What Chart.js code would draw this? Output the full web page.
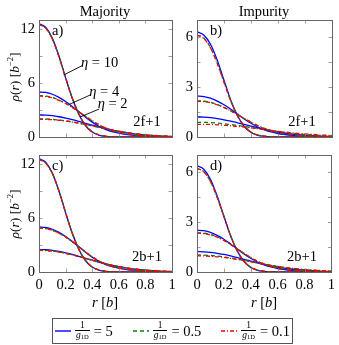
<!DOCTYPE html>
<html lang="en">
<head>
<meta charset="UTF-8">
<title>Density profiles</title>
<script src="https://cdn.jsdelivr.net/npm/chart.js@4.4.0/dist/chart.umd.min.js"></script>
<style>
  body { margin: 0; background: #fff; }
  #fig { position: relative; width: 339px; height: 345px; font-family: 'Liberation Serif', serif; color: #000; overflow: hidden; }
  #fig canvas { position: absolute; left: 0; top: 0; }
  .txt { position: absolute; font-size: 14.5px; white-space: nowrap; line-height: 1; }
  .ctr { transform: translate(-50%, -50%); }
  .ylab { position: absolute; font-size: 13.5px; white-space: nowrap; transform: translate(-50%, -50%) rotate(-90deg); }
  #legend { position: absolute; left: 52px; top: 318px; width: 235px; height: 24px; border: 1px solid #555; padding: 0 2px;
            display: flex; align-items: center; justify-content: space-between; font-size: 14.5px; }
  .item { display: flex; align-items: center; }
  .item svg { margin-right: 4px; }
  .frac { display: inline-flex; flex-direction: column; align-items: center; font-size: 9.5px; line-height: 9px; margin-right: 4px; }
  .frac .den { border-top: 0.8px solid #000; padding: 0 1px; }
  .frac sub { font-size: 6.5px; vertical-align: -1px; }
</style>
</head>
<body>
<div id="fig">
  <canvas id="pa" width="339" height="345"></canvas>
  <canvas id="pb" width="339" height="345"></canvas>
  <canvas id="pc" width="339" height="345"></canvas>
  <canvas id="pd" width="339" height="345"></canvas>

  <div class="txt ctr" style="left:105px; top:11px;">Majority</div>
  <div class="txt ctr" style="left:264px; top:11px;">Impurity</div>

  <div class="ylab" style="left:14px; top:77px;"><i>ρ</i>(<i>r</i>) [<i>b</i><sup style="font-size:8.5px">−2</sup>]</div>
  <div class="ylab" style="left:14px; top:214px;"><i>ρ</i>(<i>r</i>) [<i>b</i><sup style="font-size:8.5px">−2</sup>]</div>

  <div class="txt ctr" style="left:105px; top:302px;"><i>r</i> [<i>b</i>]</div>
  <div class="txt ctr" style="left:264px; top:302px;"><i>r</i> [<i>b</i>]</div>

  <div class="txt" style="left:52px; top:23px;">a)</div>
  <div class="txt" style="left:210px; top:23px;">b)</div>
  <div class="txt" style="left:52px; top:158px;">c)</div>
  <div class="txt" style="left:210px; top:158px;">d)</div>

  <div class="txt ctr" style="left:147px; top:121px;">2f+1</div>
  <div class="txt ctr" style="left:302px; top:121px;">2f+1</div>
  <div class="txt ctr" style="left:147px; top:256px;">2b+1</div>
  <div class="txt ctr" style="left:302px; top:256px;">2b+1</div>

  <div id="legend">
    <div class="item">
      <svg width="16" height="6"><line x1="0" y1="3" x2="16" y2="3" stroke="#0000ff" stroke-width="1.4"/></svg>
      <span class="frac"><span>1</span><span class="den"><i>g</i><sub>1D</sub></span></span>= 5
    </div>
    <div class="item">
      <svg width="16" height="6"><line x1="0" y1="3" x2="16" y2="3" stroke="#008000" stroke-width="1.4" stroke-dasharray="4,3"/></svg>
      <span class="frac"><span>1</span><span class="den"><i>g</i><sub>1D</sub></span></span>= 0.5
    </div>
    <div class="item">
      <svg width="16" height="6"><line x1="0" y1="3" x2="16" y2="3" stroke="#ff0000" stroke-width="1.4" stroke-dasharray="4,2,1,2"/></svg>
      <span class="frac"><span>1</span><span class="den"><i>g</i><sub>1D</sub></span></span>= 0.1
    </div>
  </div>
</div>

<script>
// radial grid, r in units of b
const r = [0, 0.05, 0.1, 0.15, 0.2, 0.25, 0.3, 0.35, 0.4, 0.45, 0.5,
           0.55, 0.6, 0.65, 0.7, 0.75, 0.8, 0.85, 0.9, 0.95, 1];

const xTicks = [0, 0.2, 0.4, 0.6, 0.8, 1];
const yTicksMaj = [0, 3, 6, 9, 12];
const yLabelsMaj = [0, 6, 12];
const yTicksImp = [0, 1.5, 3, 4.5, 6];
const yLabelsImp = [0, 3, 6];

// a) majority, 2f+1   (blue: 1/g=5, green: 1/g=0.5, red: 1/g=0.1)
const aEta10Blue  = [12.6, 12.2, 11.0, 9.0, 6.6, 4.3, 2.5, 1.25, 0.55, 0.22, 0.08, 0.03, 0.01, 0, 0, 0, 0, 0, 0, 0, 0];
const aEta10Green = [12.5, 12.1, 10.9, 8.95, 6.6, 4.35, 2.55, 1.3, 0.58, 0.24, 0.09, 0.03, 0.01, 0, 0, 0, 0, 0, 0, 0, 0];
const aEta10Red   = [12.5, 12.1, 10.9, 8.9, 6.55, 4.3, 2.55, 1.3, 0.58, 0.24, 0.09, 0.03, 0.01, 0, 0, 0, 0, 0, 0, 0, 0];
const aEta4Blue   = [5.0, 4.95, 4.75, 4.4, 3.95, 3.4, 2.8, 2.2, 1.65, 1.2, 0.85, 0.6, 0.42, 0.3, 0.2, 0.14, 0.1, 0.07, 0.05, 0.03, 0.02];
const aEta4Green  = [4.6, 4.55, 4.4, 4.1, 3.75, 3.3, 2.8, 2.3, 1.8, 1.35, 1.0, 0.72, 0.5, 0.36, 0.25, 0.18, 0.12, 0.08, 0.06, 0.04, 0.03];
const aEta4Red    = [4.55, 4.5, 4.35, 4.08, 3.72, 3.28, 2.8, 2.3, 1.82, 1.38, 1.02, 0.74, 0.52, 0.37, 0.26, 0.18, 0.13, 0.09, 0.06, 0.04, 0.03];
const aEta2Blue   = [2.45, 2.43, 2.37, 2.25, 2.1, 1.93, 1.73, 1.52, 1.32, 1.12, 0.93, 0.76, 0.61, 0.48, 0.37, 0.28, 0.21, 0.15, 0.11, 0.08, 0.05];
const aEta2Green  = [2.02, 2.0, 1.96, 1.89, 1.8, 1.68, 1.54, 1.39, 1.23, 1.07, 0.92, 0.77, 0.63, 0.51, 0.4, 0.31, 0.24, 0.18, 0.13, 0.1, 0.07];
const aEta2Red    = [1.97, 1.95, 1.92, 1.86, 1.77, 1.66, 1.53, 1.39, 1.24, 1.09, 0.94, 0.79, 0.65, 0.53, 0.42, 0.33, 0.25, 0.19, 0.14, 0.11, 0.08];

// b) impurity, 2f+1
const bEta10Blue  = [6.3, 6.1, 5.55, 4.6, 3.4, 2.2, 1.27, 0.63, 0.27, 0.1, 0.04, 0.015, 0.005, 0, 0, 0, 0, 0, 0, 0, 0];
const bEta10Green = [6.1, 5.92, 5.35, 4.42, 3.3, 2.17, 1.28, 0.66, 0.3, 0.12, 0.045, 0.017, 0.006, 0, 0, 0, 0, 0, 0, 0, 0];
const bEta10Red   = [6.1, 5.9, 5.33, 4.4, 3.28, 2.16, 1.28, 0.66, 0.3, 0.12, 0.045, 0.017, 0.006, 0, 0, 0, 0, 0, 0, 0, 0];
const bEta4Blue   = [2.45, 2.42, 2.32, 2.15, 1.93, 1.66, 1.37, 1.08, 0.82, 0.6, 0.43, 0.3, 0.21, 0.15, 0.1, 0.07, 0.05, 0.04, 0.03, 0.02, 0.01];
const bEta4Green  = [2.17, 2.14, 2.07, 1.94, 1.77, 1.56, 1.33, 1.1, 0.88, 0.67, 0.5, 0.37, 0.27, 0.19, 0.13, 0.09, 0.06, 0.05, 0.03, 0.02, 0.02];
const bEta4Red    = [2.14, 2.12, 2.05, 1.93, 1.76, 1.56, 1.34, 1.11, 0.89, 0.69, 0.52, 0.38, 0.28, 0.2, 0.14, 0.1, 0.07, 0.05, 0.04, 0.03, 0.02];
const bEta2Blue   = [1.2, 1.19, 1.16, 1.1, 1.03, 0.95, 0.85, 0.75, 0.65, 0.55, 0.46, 0.38, 0.3, 0.24, 0.18, 0.14, 0.1, 0.08, 0.06, 0.04, 0.03];
const bEta2Green  = [0.88, 0.88, 0.86, 0.83, 0.79, 0.74, 0.69, 0.63, 0.57, 0.51, 0.44, 0.38, 0.33, 0.27, 0.23, 0.19, 0.15, 0.12, 0.1, 0.08, 0.06];
const bEta2Red    = [0.76, 0.76, 0.75, 0.73, 0.7, 0.67, 0.63, 0.59, 0.54, 0.49, 0.44, 0.39, 0.34, 0.3, 0.26, 0.22, 0.19, 0.16, 0.13, 0.11, 0.09];

// c) majority, 2b+1
const cEta10Blue  = [12.6, 12.2, 11.0, 9.0, 6.6, 4.3, 2.5, 1.25, 0.55, 0.22, 0.08, 0.03, 0.01, 0, 0, 0, 0, 0, 0, 0, 0];
const cEta10Green = [12.5, 12.1, 10.95, 9.0, 6.6, 4.32, 2.52, 1.27, 0.56, 0.23, 0.08, 0.03, 0.01, 0, 0, 0, 0, 0, 0, 0, 0];
const cEta10Red   = [12.5, 12.1, 10.95, 9.0, 6.6, 4.32, 2.52, 1.27, 0.56, 0.23, 0.08, 0.03, 0.01, 0, 0, 0, 0, 0, 0, 0, 0];
const cEta4Blue   = [5.0, 4.95, 4.75, 4.4, 3.95, 3.4, 2.8, 2.2, 1.65, 1.2, 0.85, 0.6, 0.42, 0.3, 0.2, 0.14, 0.1, 0.07, 0.05, 0.03, 0.02];
const cEta4Green  = [4.88, 4.83, 4.65, 4.32, 3.9, 3.38, 2.8, 2.22, 1.68, 1.23, 0.88, 0.62, 0.44, 0.31, 0.21, 0.15, 0.1, 0.07, 0.05, 0.03, 0.02];
const cEta4Red    = [4.86, 4.81, 4.63, 4.31, 3.89, 3.38, 2.8, 2.23, 1.69, 1.24, 0.89, 0.63, 0.44, 0.31, 0.21, 0.15, 0.1, 0.07, 0.05, 0.03, 0.02];
const cEta2Blue   = [2.5, 2.48, 2.41, 2.29, 2.13, 1.95, 1.74, 1.52, 1.31, 1.1, 0.91, 0.74, 0.59, 0.46, 0.35, 0.27, 0.2, 0.14, 0.1, 0.07, 0.05];
const cEta2Green  = [2.42, 2.4, 2.34, 2.23, 2.08, 1.91, 1.72, 1.51, 1.31, 1.11, 0.92, 0.75, 0.6, 0.47, 0.37, 0.28, 0.21, 0.15, 0.11, 0.08, 0.05];
const cEta2Red    = [2.4, 2.38, 2.32, 2.22, 2.07, 1.9, 1.71, 1.51, 1.31, 1.11, 0.92, 0.76, 0.61, 0.48, 0.37, 0.28, 0.21, 0.15, 0.11, 0.08, 0.05];

// d) impurity, 2b+1
const dEta10Blue  = [6.35, 6.15, 5.55, 4.55, 3.35, 2.17, 1.25, 0.63, 0.27, 0.1, 0.04, 0.015, 0.005, 0, 0, 0, 0, 0, 0, 0, 0];
const dEta10Green = [6.2, 6.0, 5.42, 4.47, 3.32, 2.17, 1.27, 0.65, 0.29, 0.11, 0.045, 0.017, 0.006, 0, 0, 0, 0, 0, 0, 0, 0];
const dEta10Red   = [6.2, 6.0, 5.42, 4.47, 3.32, 2.17, 1.27, 0.65, 0.29, 0.11, 0.045, 0.017, 0.006, 0, 0, 0, 0, 0, 0, 0, 0];
const dEta4Blue   = [2.5, 2.47, 2.37, 2.19, 1.96, 1.68, 1.38, 1.08, 0.82, 0.6, 0.43, 0.3, 0.21, 0.15, 0.1, 0.07, 0.05, 0.04, 0.03, 0.02, 0.01];
const dEta4Green  = [2.35, 2.32, 2.24, 2.1, 1.9, 1.65, 1.38, 1.11, 0.86, 0.64, 0.47, 0.33, 0.23, 0.16, 0.11, 0.08, 0.06, 0.04, 0.03, 0.02, 0.01];
const dEta4Red    = [2.33, 2.3, 2.22, 2.09, 1.89, 1.65, 1.38, 1.12, 0.87, 0.65, 0.48, 0.34, 0.24, 0.17, 0.12, 0.08, 0.06, 0.04, 0.03, 0.02, 0.01];
const dEta2Blue   = [1.22, 1.21, 1.18, 1.12, 1.05, 0.96, 0.86, 0.76, 0.65, 0.55, 0.46, 0.37, 0.3, 0.23, 0.18, 0.14, 0.1, 0.08, 0.06, 0.04, 0.03];
const dEta2Green  = [1.02, 1.01, 0.99, 0.95, 0.9, 0.84, 0.77, 0.7, 0.62, 0.54, 0.47, 0.4, 0.33, 0.27, 0.22, 0.18, 0.14, 0.11, 0.09, 0.07, 0.05];
const dEta2Red    = [0.97, 0.96, 0.94, 0.91, 0.87, 0.81, 0.75, 0.68, 0.61, 0.54, 0.47, 0.4, 0.34, 0.28, 0.23, 0.19, 0.15, 0.12, 0.1, 0.08, 0.06];

// eta labels in panel a), in data coordinates: text anchor, leader line from -> to
const etaNotes = [
  { text: '10', at: [0.316, 8.19], from: [0.323, 7.92], to: [0.186, 6.89] },
  { text: '4',  at: [0.378, 4.97], from: [0.386, 4.67], to: [0.228, 3.63] },
  { text: '2',  at: [0.441, 3.63], from: [0.453, 3.11], to: [0.308, 2.22] }
];

// order: red drawn last (on top), blue first
const styles = [
  { color: '#0000ff', dash: [], order: 2 },
  { color: '#008000', dash: [4, 3], order: 1 },
  { color: '#ff0000', dash: [4, 2, 1, 2], order: 0 }
];

const FONT = "'Liberation Serif', serif";

// axis box with inward ticks on all sides, pgfplots style
const frameTicks = {
  id: 'frameTicks',
  afterDatasetsDraw(chart) {
    const { ctx, chartArea: a, scales } = chart;
    ctx.save();
    ctx.lineWidth = 0.8;
    ctx.strokeStyle = '#888';
    const L = 3.5;
    scales.x.ticks.forEach(t => {
      const px = Math.round(scales.x.getPixelForValue(t.value)) + 0.5;
      ctx.beginPath();
      ctx.moveTo(px, a.bottom); ctx.lineTo(px, a.bottom - L);
      ctx.moveTo(px, a.top); ctx.lineTo(px, a.top + L);
      ctx.stroke();
    });
    scales.y.ticks.forEach(t => {
      const py = Math.round(scales.y.getPixelForValue(t.value)) + 0.5;
      ctx.beginPath();
      ctx.moveTo(a.left, py); ctx.lineTo(a.left + L, py);
      ctx.moveTo(a.right, py); ctx.lineTo(a.right - L, py);
      ctx.stroke();
    });
    ctx.lineWidth = 1;
    ctx.strokeStyle = '#666';
    ctx.strokeRect(Math.round(a.left) + 0.5, Math.round(a.top) + 0.5,
                   Math.round(a.right - a.left), Math.round(a.bottom - a.top));
    ctx.restore();
  }
};

const etaLabels = {
  id: 'etaLabels',
  afterDatasetsDraw(chart, args, opts) {
    if (!opts.notes) return;
    const { ctx, scales: { x, y } } = chart;
    ctx.save();
    ctx.strokeStyle = '#000';
    ctx.lineWidth = 0.9;
    ctx.fillStyle = '#000';
    ctx.textBaseline = 'middle';
    opts.notes.forEach(n => {
      ctx.beginPath();
      ctx.moveTo(x.getPixelForValue(n.from[0]), y.getPixelForValue(n.from[1]));
      ctx.lineTo(x.getPixelForValue(n.to[0]), y.getPixelForValue(n.to[1]));
      ctx.stroke();
      let px = x.getPixelForValue(n.at[0]);
      const py = y.getPixelForValue(n.at[1]);
      ctx.font = 'italic 14.5px ' + FONT;
      ctx.fillText('η', px, py);
      px += ctx.measureText('η').width;
      ctx.font = '14.5px ' + FONT;
      ctx.fillText(' = ' + n.text, px, py);
    });
    ctx.restore();
  }
};

function makePanel(id, box, yMax, yTicks, yLabels, showX, series, notes) {
  const yWidth = 30;
  const xHeight = showX ? 20 : 0;
  const datasets = [];
  series.forEach((group, s) => {
    group.forEach(arr => {
      datasets.push({
        data: r.map((v, i) => ({ x: v, y: arr[i] })),
        borderColor: styles[s].color,
        borderDash: styles[s].dash,
        order: styles[s].order,
        borderWidth: 1.3,
        pointRadius: 0,
        cubicInterpolationMode: 'monotone',
        fill: false
      });
    });
  });
  return new Chart(document.getElementById(id), {
    type: 'line',
    data: { datasets },
    plugins: [frameTicks, etaLabels],
    options: {
      responsive: false,
      animation: false,
      events: [],
      layout: {
        padding: { left: box[0] - yWidth, top: box[1], right: 339 - box[2], bottom: 345 - box[3] - xHeight }
      },
      plugins: {
        legend: { display: false },
        tooltip: { enabled: false },
        etaLabels: { notes }
      },
      scales: {
        x: {
          type: 'linear', min: 0, max: 1,
          grid: { display: false, drawTicks: false, tickLength: 0 }, border: { display: false },
          afterBuildTicks: s => { s.ticks = xTicks.map(v => ({ value: v })); },
          afterFit: s => { s.height = xHeight; },
          ticks: {
            display: showX, padding: 4, color: '#000', maxRotation: 0, autoSkip: false,
            font: { family: FONT, size: 14.5 },
            callback: v => String(v)
          }
        },
        y: {
          type: 'linear', min: 0, max: yMax,
          grid: { display: false, drawTicks: false, tickLength: 0 }, border: { display: false },
          afterBuildTicks: s => { s.ticks = yTicks.map(v => ({ value: v })); },
          afterFit: s => { s.width = yWidth; },
          ticks: {
            padding: 4, color: '#000', autoSkip: false,
            font: { family: FONT, size: 14.5 },
            callback: v => yLabels.includes(v) ? String(v) : ''
          }
        }
      }
    }
  });
}

makePanel('pa', [39, 20, 172, 137], 13, yTicksMaj, yLabelsMaj, false,
  [[aEta10Blue, aEta4Blue, aEta2Blue], [aEta10Green, aEta4Green, aEta2Green], [aEta10Red, aEta4Red, aEta2Red]], etaNotes);
makePanel('pb', [197, 20, 332, 137], 7, yTicksImp, yLabelsImp, false,
  [[bEta10Blue, bEta4Blue, bEta2Blue], [bEta10Green, bEta4Green, bEta2Green], [bEta10Red, bEta4Red, bEta2Red]], null);
makePanel('pc', [39, 155, 172, 272], 13, yTicksMaj, yLabelsMaj, true,
  [[cEta10Blue, cEta4Blue, cEta2Blue], [cEta10Green, cEta4Green, cEta2Green], [cEta10Red, cEta4Red, cEta2Red]], null);
makePanel('pd', [197, 155, 332, 272], 7, yTicksImp, yLabelsImp, true,
  [[dEta10Blue, dEta4Blue, dEta2Blue], [dEta10Green, dEta4Green, dEta2Green], [dEta10Red, dEta4Red, dEta2Red]], null);
</script>
</body>
</html>
